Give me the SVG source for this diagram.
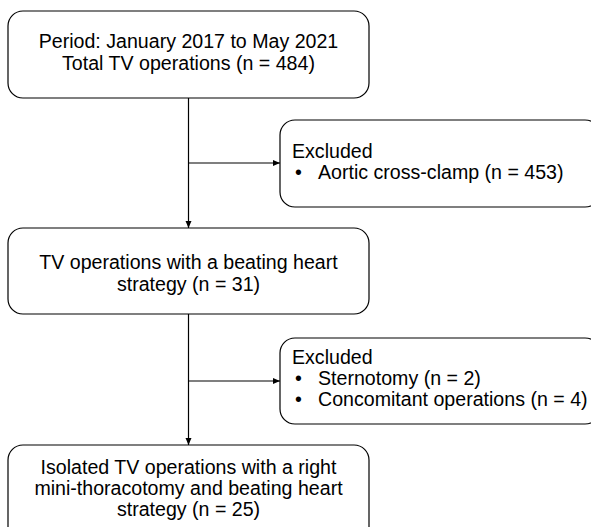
<svg xmlns="http://www.w3.org/2000/svg" width="591" height="527" viewBox="0 0 591 527">
<defs>
<style>
.box{fill:#fff;stroke:#000;stroke-width:1.2}
.t{font-family:"Liberation Sans",Arial,sans-serif;font-size:19.6px;fill:#000}
.c{text-anchor:middle}
.ln{stroke:#000;stroke-width:1.2;fill:none}
</style>
<marker id="ah" markerWidth="8" markerHeight="8" refX="7" refY="4" orient="auto" markerUnits="userSpaceOnUse">
<path d="M0,1 L7,4 L0,7 z" fill="#000"/>
</marker>
</defs>
<rect width="591" height="527" fill="#fff"/>
<g id="connectors">
<path class="ln" d="M188.5,98 V228" marker-end="url(#ah)"/>
<path class="ln" d="M188.5,163 H280" marker-end="url(#ah)"/>
<path class="ln" d="M188.5,314 V445" marker-end="url(#ah)"/>
<path class="ln" d="M188.5,381 H280" marker-end="url(#ah)"/>
</g>
<g id="n1">
<rect class="box" x="8" y="11" width="361" height="87" rx="15"/>
<text class="t c" x="188.5" y="48">Period: January 2017 to May 2021</text>
<text class="t c" x="188.5" y="70">Total TV operations (n = 484)</text>
</g>
<g id="n2">
<rect class="box" x="280" y="120" width="320" height="87" rx="15"/>
<text class="t" x="292" y="158">Excluded</text>
<text class="t" x="295" y="179">•</text>
<text class="t" x="318" y="179">Aortic cross-clamp (n = 453)</text>
</g>
<g id="n3">
<rect class="box" x="8" y="228" width="361" height="86" rx="15"/>
<text class="t c" x="188.5" y="269">TV operations with a beating heart</text>
<text class="t c" x="188.5" y="291">strategy (n = 31)</text>
</g>
<g id="n4">
<rect class="box" x="280" y="338" width="320" height="86" rx="15"/>
<text class="t" x="292" y="364">Excluded</text>
<text class="t" x="295" y="385">•</text>
<text class="t" x="318" y="385">Sternotomy (n = 2)</text>
<text class="t" x="295" y="406">•</text>
<text class="t" x="318" y="406">Concomitant operations (n = 4)</text>
</g>
<g id="n5">
<rect class="box" x="8" y="445" width="361" height="100" rx="15"/>
<text class="t c" x="188.5" y="474">Isolated TV operations with a right</text>
<text class="t c" x="188.5" y="495">mini-thoracotomy and beating heart</text>
<text class="t c" x="188.5" y="516">strategy (n = 25)</text>
</g>
</svg>
